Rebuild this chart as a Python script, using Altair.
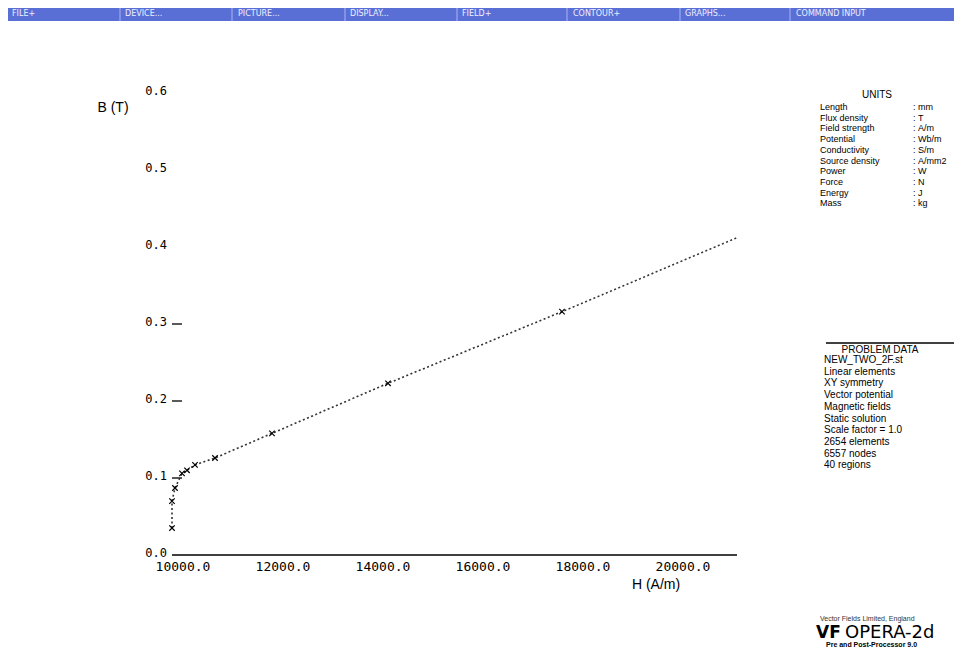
import altair as alt
import pandas as pd

# ---------------- data ----------------
menu_items = ["FILE+", "DEVICE...", "PICTURE...", "DISPLAY...", "FIELD+", "CONTOUR+", "GRAPHS...", "COMMAND INPUT"]

H_points = [10000, 10000, 10060, 10200, 10300, 10460, 10860, 12000, 14320, 17800]
B_points = [0.035, 0.070, 0.087, 0.106, 0.110, 0.117, 0.126, 0.158, 0.223, 0.316]
H_curve = [10000, 10000, 10060, 10200, 10300, 10460, 10860, 12000, 14320, 17800, 21300]
B_curve = [0.035, 0.070, 0.087, 0.106, 0.110, 0.117, 0.126, 0.158, 0.223, 0.316, 0.412]

x_ticks = [10000, 12000, 14000, 16000, 18000, 20000]
y_ticks = [0.0, 0.1, 0.2, 0.3, 0.4, 0.5, 0.6]
y_tick_marks = [0.1, 0.2, 0.3]

units_names = ["Length", "Flux density", "Field strength", "Potential", "Conductivity",
               "Source density", "Power", "Force", "Energy", "Mass"]
units_values = ["mm", "T", "A/m", "Wb/m", "S/m", "A/mm2", "W", "N", "J", "kg"]

problem_lines = ["NEW_TWO_2F.st", "Linear elements", "XY symmetry", "Vector potential",
                 "Magnetic fields", "Static solution", "Scale factor = 1.0",
                 "2654 elements", "6557 nodes", "40 regions"]

# ---------------- helpers ----------------
M = 8  # page margin


def P(v):
    return v - M


ONE = alt.Data(values=[{"a": 1}])
layers = []


def text(t, x, y, size=10, align="left", color="black", font="Liberation Sans", weight="normal", baseline="middle"):
    layers.append(
        alt.Chart(ONE).mark_text(text=t, align=align, baseline=baseline, fontSize=size,
                                 font=font, fontWeight=weight, color=color)
        .encode(x=alt.value(P(x)), y=alt.value(P(y)))
    )


def hline(x1, x2, y, color="black", w=1.0):
    layers.append(
        alt.Chart(ONE).mark_rule(color=color, strokeWidth=w)
        .encode(x=alt.value(P(x1)), x2=alt.value(P(x2)), y=alt.value(P(y)))
    )


def vline(x, y1, y2, color="black", w=1.0):
    layers.append(
        alt.Chart(ONE).mark_rule(color=color, strokeWidth=w)
        .encode(x=alt.value(P(x)), y=alt.value(P(y1)), y2=alt.value(P(y2)))
    )


# ---------------- menu bar ----------------
layers.append(
    alt.Chart(ONE).mark_rect(color="#5a6fd6")
    .encode(x=alt.value(0), x2=alt.value(946), y=alt.value(0), y2=alt.value(P(21)))
)
divs = [120, 232, 345, 457, 567, 680, 790]
for d in divs:
    vline(d, 8, 21, color="#aab5f0", w=1)
starts = [12, 125, 238, 350, 462, 573, 685, 796]
for s, m in zip(starts, menu_items):
    text(m, s, 14, size=8, color="#eef0ff", font="DejaVu Sans")

# ---------------- scales ----------------
xs = alt.Scale(domain=[10000, 21300], range=[P(172), P(737)], nice=False, zero=False)
ys = alt.Scale(domain=[0.0, 0.6], range=[P(555), P(93)], nice=False, zero=False)

# axis line
axis_df = pd.DataFrame({"H": [10000], "H2": [21300], "B": [0.0]})
layers.append(
    alt.Chart(axis_df).mark_rule(color="black", strokeWidth=1.6)
    .encode(x=alt.X("H:Q", scale=xs, axis=None), x2="H2:Q", y=alt.Y("B:Q", scale=ys, axis=None))
)

# y tick marks
yt_df = pd.DataFrame({"H": [10000] * len(y_tick_marks), "H2": [10200] * len(y_tick_marks), "B": y_tick_marks})
layers.append(
    alt.Chart(yt_df).mark_rule(color="black", strokeWidth=1.3)
    .encode(x=alt.X("H:Q", scale=xs, axis=None), x2="H2:Q", y=alt.Y("B:Q", scale=ys, axis=None))
)

# y tick labels
yl_df = pd.DataFrame({"H": [10000] * len(y_ticks), "B": y_ticks, "lab": [f"{v:.1f}" for v in y_ticks]})
layers.append(
    alt.Chart(yl_df).mark_text(align="right", baseline="middle", dx=-5, dy=-2, fontSize=12,
                               font="DejaVu Sans Mono", color="black")
    .encode(x=alt.X("H:Q", scale=xs, axis=None), y=alt.Y("B:Q", scale=ys, axis=None), text="lab:N")
)

# x tick labels
xl_df = pd.DataFrame({"H": x_ticks, "B": [0.0] * len(x_ticks), "lab": [f"{v:.1f}" for v in x_ticks]})
layers.append(
    alt.Chart(xl_df).mark_text(align="center", baseline="middle", dx=11, dy=12, fontSize=13,
                               font="DejaVu Sans Mono", color="black")
    .encode(x=alt.X("H:Q", scale=xs, axis=None), y=alt.Y("B:Q", scale=ys, axis=None), text="lab:N")
)

# axis titles
text("B (T)", 113, 108, size=14, align="center")
text("H (A/m)", 656, 585, size=14, align="center")

# curve
curve_df = pd.DataFrame({"H": H_curve, "B": B_curve, "i": list(range(len(H_curve)))})
layers.append(
    alt.Chart(curve_df).mark_line(color="#333333", strokeWidth=1.6, strokeDash=[2, 2.5])
    .encode(x=alt.X("H:Q", scale=xs, axis=None), y=alt.Y("B:Q", scale=ys, axis=None), order="i:Q")
)

# markers
pts_df = pd.DataFrame({"H": H_points, "B": B_points})
layers.append(
    alt.Chart(pts_df).mark_point(shape="M-1,-1L1,1M-1,1L1,-1", size=30, filled=False,
                                 color="black", strokeWidth=1.2, opacity=1)
    .encode(x=alt.X("H:Q", scale=xs, axis=None), y=alt.Y("B:Q", scale=ys, axis=None))
)

# ---------------- UNITS panel ----------------
text("UNITS", 877, 95, size=10, align="center")
for k, (n, v) in enumerate(zip(units_names, units_values)):
    yy = 107 + k * 10.7
    text(n, 820, yy, size=9)
    text(":", 913, yy, size=9)
    text(v, 918, yy, size=9)

# ---------------- PROBLEM DATA panel ----------------
hline(826, 954, 343, w=1.5)
text("PROBLEM DATA", 880, 350, size=10, align="center")
for k, t in enumerate(problem_lines):
    text(t, 824, 360 + k * 11.7, size=10)

# ---------------- logo ----------------
text("Vector Fields Limited, England", 820, 619, size=7, color="#333333")
text("VF", 816, 633, size=17, font="DejaVu Sans", weight="bold")
text("OPERA-2d", 845, 633, size=18, font="DejaVu Sans")
text("Pre and Post-Processor 9.0", 826, 645, size=7, weight="bold")

chart = alt.layer(*layers).properties(
    width=946, height=640, padding=0, autosize=alt.AutoSizeParams(type="none")
).configure_view(stroke=None)

chart.save("out.html", embed_options={"renderer": "svg", "actions": False})
